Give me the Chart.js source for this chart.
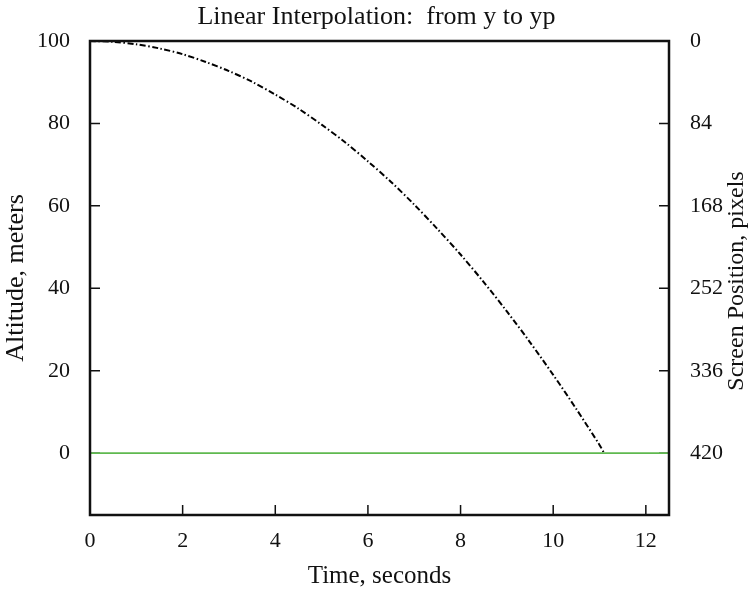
<!DOCTYPE html>
<html>
<head>
<meta charset="utf-8">
<script src="https://cdn.jsdelivr.net/npm/chart.js@4/dist/chart.umd.min.js"></script>
<style>
  html, body { margin: 0; padding: 0; background: #fff; }
  #wrap { width: 753px; height: 591px; }
</style>
</head>
<body>
<div id="wrap"><canvas id="myChart"></canvas></div>
<script>
// --------------------
// Data
// --------------------
const timeSec = [0, 0.5, 1, 1.5, 2, 2.5, 3, 3.5, 4, 4.5, 5, 5.5, 6, 6.5, 7, 7.5, 8, 8.5, 9, 9.5, 10, 10.5, 11, 11.1];
const altitude = [100, 99.8, 99.2, 98.2, 96.8, 94.9, 92.7, 90.1, 87.0, 83.6, 79.7, 75.5, 70.8, 65.8, 60.3, 54.4, 48.2, 41.5, 34.4, 26.9, 19.0, 10.7, 2.0, 0];
const groundTime = [0, 12.5];
const groundAlt = [0, 0];

const xTicks = [0, 2, 4, 6, 8, 10, 12];
const altTicks = [0, 20, 40, 60, 80, 100];
const pixelTicks = [0, 84, 168, 252, 336, 420];

const titleText = "Linear Interpolation:  from y to yp";
const xLabel = "Time, seconds";
const yLabel = "Altitude, meters";
const y2Label = "Screen Position, pixels";

const serif = "'Liberation Serif', 'DejaVu Serif', serif";
const ink = "#111";

// --------------------
// Plugin: frame, inward ticks, right axis title
// --------------------
const framePlugin = {
  id: "frame",
  beforeDatasetsDraw(chart) {
    const { ctx, chartArea: a, scales } = chart;
    ctx.save();
    ctx.strokeStyle = ink;
    ctx.lineWidth = 1.5;
    ctx.beginPath();
    const len = 10;
    scales.x.ticks.forEach((t) => {
      if (t.value <= 0) return;
      const px = scales.x.getPixelForValue(t.value);
      ctx.moveTo(px, a.bottom);
      ctx.lineTo(px, a.bottom - len);
    });
    scales.y.ticks.forEach((t) => {
      if (t.value >= 100) return;
      const py = scales.y.getPixelForValue(t.value);
      ctx.moveTo(a.left, py);
      ctx.lineTo(a.left + len, py);
    });
    scales.y2.ticks.forEach((t) => {
      if (t.value <= 0) return;
      const py = scales.y2.getPixelForValue(t.value);
      ctx.moveTo(a.right, py);
      ctx.lineTo(a.right - len, py);
    });
    ctx.stroke();
    ctx.restore();
  },
  afterDraw(chart) {
    const { ctx, chartArea: a } = chart;
    ctx.save();
    ctx.strokeStyle = ink;
    ctx.lineWidth = 2.5;
    ctx.strokeRect(a.left, a.top, a.right - a.left, a.bottom - a.top);

    // right-hand title, reading bottom to top
    ctx.translate(737, (a.top + a.bottom) / 2 + 3);
    ctx.rotate(-Math.PI / 2);
    ctx.fillStyle = ink;
    ctx.font = "24px " + serif;
    ctx.textAlign = "center";
    ctx.textBaseline = "middle";
    ctx.fillText(y2Label, 0, 0);
    ctx.restore();
  }
};

// --------------------
// Build chart
// --------------------
const curve = timeSec.map((t, i) => ({ x: t, y: altitude[i] }));
const ground = groundTime.map((t, i) => ({ x: t, y: groundAlt[i] }));

const ctx = document.getElementById("myChart").getContext("2d");

new Chart(ctx, {
  type: "line",
  data: {
    datasets: [
      {
        label: "ground",
        data: ground,
        borderColor: "#5fb94f",
        borderWidth: 1.6,
        pointRadius: 0,
        yAxisID: "y"
      },
      {
        label: "y",
        data: curve,
        borderColor: "#000",
        borderWidth: 2,
        borderDash: [6, 2.5, 1.5, 2.5],
        pointRadius: 0,
        tension: 0.3,
        yAxisID: "y"
      }
    ]
  },
  options: {
    responsive: true,
    maintainAspectRatio: false,
    animation: false,
    layout: { padding: 0 },
    plugins: {
      legend: { display: false },
      tooltip: { enabled: false },
      title: {
        display: true,
        text: titleText,
        color: ink,
        font: { family: serif, size: 26, weight: "normal", lineHeight: 1.2 },
        padding: { top: 2, bottom: 7.8 }
      }
    },
    scales: {
      x: {
        type: "linear",
        position: "bottom",
        min: 0,
        max: 12.5,
        afterBuildTicks: (s) => { s.ticks = xTicks.map((v) => ({ value: v })); },
        afterFit: (s) => { s.height = 76; },
        grid: { display: false },
        border: { display: false },
        ticks: { color: ink, padding: 5, font: { family: serif, size: 22 }, maxRotation: 0 },
        title: {
          display: true,
          text: xLabel,
          color: ink,
          font: { family: serif, size: 25, lineHeight: 1.2 },
          padding: { top: 0, bottom: 0 }
        }
      },
      y: {
        type: "linear",
        position: "left",
        min: -15,
        max: 100,
        afterBuildTicks: (s) => { s.ticks = altTicks.map((v) => ({ value: v })); },
        afterFit: (s) => { s.width = 90; },
        grid: { display: false },
        border: { display: false },
        ticks: { color: ink, padding: 12, font: { family: serif, size: 22 } },
        title: {
          display: true,
          text: yLabel,
          color: ink,
          font: { family: serif, size: 26, lineHeight: 1.2 },
          padding: { top: 0.5, bottom: 0 }
        }
      },
      y2: {
        type: "linear",
        position: "right",
        reverse: true,
        min: 0,
        max: 483,
        afterBuildTicks: (s) => { s.ticks = pixelTicks.map((v) => ({ value: v })); },
        afterFit: (s) => { s.width = 84; },
        grid: { display: false },
        border: { display: false },
        ticks: { color: ink, padding: 13, font: { family: serif, size: 22 } }
      }
    }
  },
  plugins: [framePlugin]
});
</script>
</body>
</html>
